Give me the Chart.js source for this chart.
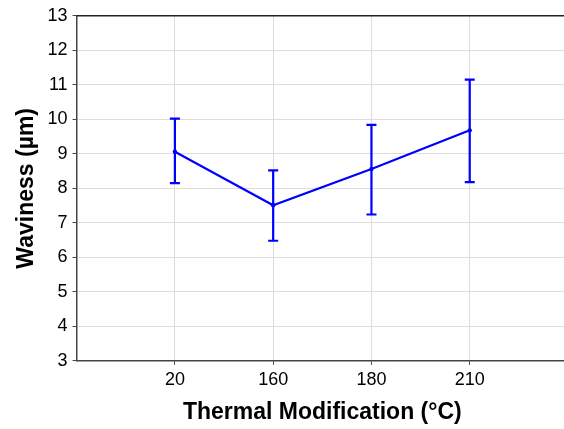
<!DOCTYPE html>
<html lang="en">
<head>
    <meta charset="UTF-8">
    <title>Waviness vs Thermal Modification</title>
    <style>
        html, body { margin: 0; padding: 0; background: #fff; overflow: hidden; }
        #wrap { width: 572px; height: 429px; }
    </style>
</head>
<body>
    <div id="wrap"><canvas id="chart"></canvas></div>

    <script src="https://cdn.jsdelivr.net/npm/chart.js"></script>
    <script>
        // values
        const categories = ['20', '160', '180', '210'];
        const means = [9.06, 7.51, 8.56, 9.68];
        const upper = [10.02, 8.52, 9.84, 11.15];
        const lower = [8.15, 6.48, 7.24, 8.18];
        const yTicks = [3, 4, 5, 6, 7, 8, 9, 10, 11, 12, 13];

        const blue = '#0000ff';
        const font = "'Liberation Sans', Arial, sans-serif";

        // error bars + top frame line
        const errorBars = {
            id: 'errorBars',
            afterDatasetsDraw(chart) {
                const { ctx, scales: { x, y }, chartArea } = chart;
                ctx.save();
                ctx.strokeStyle = blue;
                ctx.lineWidth = 2.2;
                categories.forEach((c, i) => {
                    const px = x.getPixelForValue(i + 1);
                    const top = y.getPixelForValue(upper[i]);
                    const bot = y.getPixelForValue(lower[i]);
                    ctx.beginPath();
                    ctx.moveTo(px, top); ctx.lineTo(px, bot);
                    ctx.moveTo(px - 5, top); ctx.lineTo(px + 5, top);
                    ctx.moveTo(px - 5, bot); ctx.lineTo(px + 5, bot);
                    ctx.stroke();
                });
                ctx.strokeStyle = '#222';
                ctx.lineWidth = 1.5;
                ctx.beginPath();
                ctx.moveTo(chartArea.left, chartArea.top);
                ctx.lineTo(chartArea.right, chartArea.top);
                ctx.stroke();
                ctx.restore();
            }
        };

        new Chart(document.getElementById('chart'), {
            type: 'line',
            data: {
                datasets: [{
                    data: means.map((v, i) => ({ x: i + 1, y: v })),
                    borderColor: blue,
                    backgroundColor: blue,
                    borderWidth: 2.2,
                    pointRadius: 2.2,
                    pointBorderWidth: 0,
                    tension: 0
                }]
            },
            options: {
                responsive: true,
                maintainAspectRatio: false,
                animation: false,
                layout: { padding: { top: 5, left: 13, right: 0, bottom: 3 } },
                plugins: { legend: { display: false }, tooltip: { enabled: false } },
                scales: {
                    x: {
                        type: 'linear',
                        min: 0,
                        max: categories.length + 1,
                        afterBuildTicks: axis => { axis.ticks = categories.map((c, i) => ({ value: i + 1 })); },
                        ticks: {
                            callback: v => categories[v - 1],
                            color: '#000',
                            font: { family: font, size: 18 },
                            padding: 4
                        },
                        grid: { color: '#dddddd', tickColor: '#444', tickLength: 4, lineWidth: 1 },
                        border: { color: '#444', width: 1.5 },
                        title: {
                            display: true,
                            text: 'Thermal Modification (°C)',
                            color: '#000',
                            font: { family: font, size: 23, weight: 'bold' },
                            padding: { top: 4, bottom: 0 }
                        }
                    },
                    y: {
                        min: 3,
                        max: 13,
                        afterBuildTicks: axis => { axis.ticks = yTicks.map(v => ({ value: v })); },
                        ticks: {
                            color: '#000',
                            font: { family: font, size: 18 },
                            padding: 5
                        },
                        grid: { color: '#dddddd', tickColor: '#444', tickLength: 4, lineWidth: 1 },
                        border: { color: '#444', width: 1.5 },
                        title: {
                            display: true,
                            text: 'Waviness (µm)',
                            color: '#000',
                            font: { family: font, size: 23, weight: 'bold' },
                            padding: { top: 0, bottom: 2 }
                        }
                    }
                }
            },
            plugins: [errorBars]
        });
    </script>
</body>
</html>
